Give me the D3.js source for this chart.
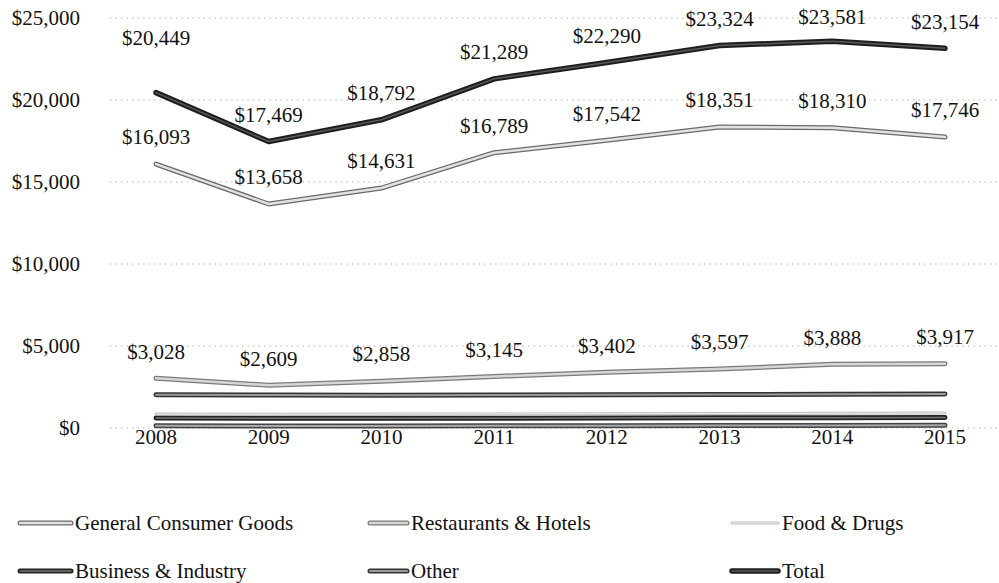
<!DOCTYPE html>
<html>
<head>
<meta charset="utf-8">
<script src="https://cdn.jsdelivr.net/npm/d3@7"></script>
<style>
  body { margin: 0; background: #fff; }
</style>
</head>
<body>
<div id="chart"></div>
<script>
// values
const years = [2008, 2009, 2010, 2011, 2012, 2013, 2014, 2015];
const yTicks = [0, 5000, 10000, 15000, 20000, 25000];

const total = [20449, 17469, 18792, 21289, 22290, 23324, 23581, 23154];
const generalConsumer = [16093, 13658, 14631, 16789, 17542, 18351, 18310, 17746];
const restaurantsHotels = [3028, 2609, 2858, 3145, 3402, 3597, 3888, 3917];
const other = [2030, 2010, 2000, 2010, 2020, 2040, 2060, 2070];
const foodDrugs = [850, 840, 850, 860, 870, 880, 900, 910];
const businessIndustry = [610, 590, 600, 600, 610, 620, 630, 640];
const lowLine = [130, 120, 120, 130, 140, 150, 160, 170];

const legendNames = ["General Consumer Goods", "Restaurants & Hotels", "Food & Drugs",
                     "Business & Industry", "Other", "Total"];

const width = 999, height = 583;
const serif = "'Liberation Serif', 'Times New Roman', Times, 'DejaVu Serif', serif";

// line looks: dark edge + lighter core, like the scanned excel lines
const looks = {
  "Total": {edge: "#1e1e1e", ew: 5.5, core: "#5a5a5a", cw: 1.5},
  "General Consumer Goods": {edge: "#6a6a6a", ew: 5, core: "#e2e2e2", cw: 2.5},
  "Restaurants & Hotels": {edge: "#7a7a7a", ew: 5, core: "#d6d6d6", cw: 2.5},
  "Other": {edge: "#333", ew: 5, core: "#9a9a9a", cw: 2},
  "Food & Drugs": {edge: "#bdbdbd", ew: 3, core: "#f2f2f2", cw: 1},
  "Business & Industry": {edge: "#222", ew: 5, core: "#777", cw: 1.5},
  "low": {edge: "#444", ew: 5, core: "#a8a8a8", cw: 2}
};

const series = [
  {name: "low", values: lowLine},
  {name: "Business & Industry", values: businessIndustry},
  {name: "Food & Drugs", values: foodDrugs},
  {name: "Other", values: other},
  {name: "Restaurants & Hotels", values: restaurantsHotels, labels: true},
  {name: "General Consumer Goods", values: generalConsumer, labels: true},
  {name: "Total", values: total, labels: true}
];

const svg = d3.select("#chart")
    .append("svg")
    .attr("width", width)
    .attr("height", height)
    .attr("font-family", serif)
    .style("font-family", serif);

const x = d3.scalePoint()
    .domain(years)
    .range([156, 945]);

const y = d3.scaleLinear()
    .domain([0, 25000])
    .range([428, 18]);

const fmt = d3.format("$,");

// dotted gridlines
svg.append("g").selectAll("line")
    .data(yTicks)
    .enter().append("line")
    .attr("x1", 110)
    .attr("x2", 999)
    .attr("y1", d => y(d))
    .attr("y2", d => y(d))
    .attr("stroke", "#b5b5b5")
    .attr("stroke-width", 1)
    .attr("stroke-dasharray", "1.5,4");

// y tick labels
svg.append("g").selectAll("text")
    .data(yTicks)
    .enter().append("text")
    .attr("x", 80)
    .attr("y", d => y(d))
    .attr("dy", "0.35em")
    .attr("text-anchor", "end")
    .attr("fill", "#111")
    .style("font-size", "21px")
    .text(d => fmt(d));

// year labels
svg.append("g").selectAll("text")
    .data(years)
    .enter().append("text")
    .attr("x", d => x(d))
    .attr("y", 437)
    .attr("dy", "0.35em")
    .attr("text-anchor", "middle")
    .attr("fill", "#111")
    .style("font-size", "21px")
    .text(d => d);

const line = d3.line()
    .x((d, i) => x(years[i]))
    .y(d => y(d));

series.forEach(s => {
  const lk = looks[s.name];
  svg.append("path")
      .attr("d", line(s.values))
      .attr("fill", "none")
      .attr("stroke", lk.edge)
      .attr("stroke-width", lk.ew)
      .attr("stroke-linejoin", "round")
      .attr("stroke-linecap", "round");
  svg.append("path")
      .attr("d", line(s.values))
      .attr("fill", "none")
      .attr("stroke", lk.core)
      .attr("stroke-width", lk.cw)
      .attr("stroke-linejoin", "round")
      .attr("stroke-linecap", "round");
});

// data labels above the points
series.filter(s => s.labels).forEach(s => {
  svg.append("g").selectAll("text")
      .data(s.values)
      .enter().append("text")
      .attr("x", (d, i) => x(years[i]))
      .attr("y", (d, i) => {
        const lift = (s.name === "Total" && i === 0) ? 55 : 27;
        return Math.max(y(d) - lift, 17);
      })
      .attr("dy", "0.35em")
      .attr("text-anchor", "middle")
      .attr("fill", "#111")
      .style("font-size", "21px")
      .text(d => fmt(d));
});

// legend, 3 columns x 2 rows
const legCols = [{sx: 18, tx: 75}, {sx: 368, tx: 411}, {sx: 730, tx: 782}];
const legRows = [523, 571];

const legend = svg.append("g").selectAll("g")
    .data(legendNames)
    .enter().append("g")
    .attr("transform", (d, i) => "translate(0," + legRows[Math.floor(i / 3)] + ")");

legend.each(function(d, i) {
  const col = legCols[i % 3];
  const lk = looks[d];
  const g = d3.select(this);
  g.append("line")
      .attr("x1", col.sx + 2).attr("x2", col.tx - 4)
      .attr("y1", 0).attr("y2", 0)
      .attr("stroke", lk.edge).attr("stroke-width", lk.ew)
      .attr("stroke-linecap", "round");
  g.append("line")
      .attr("x1", col.sx + 2).attr("x2", col.tx - 4)
      .attr("y1", 0).attr("y2", 0)
      .attr("stroke", lk.core).attr("stroke-width", lk.cw)
      .attr("stroke-linecap", "round");
  g.append("text")
      .attr("x", col.tx)
      .attr("y", 0)
      .attr("dy", "0.35em")
      .attr("fill", "#111")
      .style("font-size", "21px")
      .text(d);
});
</script>
</body>
</html>
